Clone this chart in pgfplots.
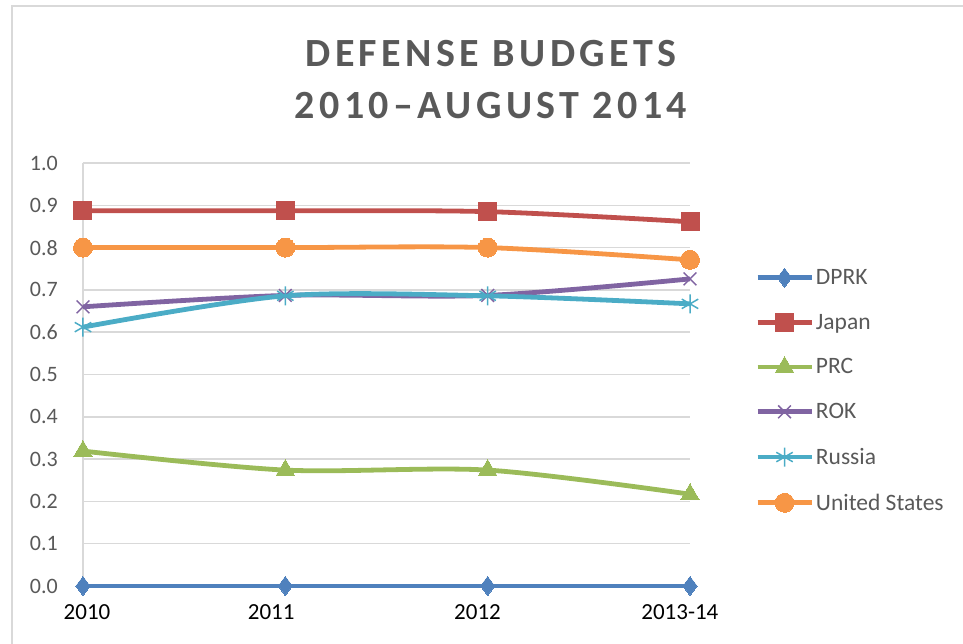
\documentclass[border=0pt]{standalone}
\usepackage{pgfplots}
\pgfplotsset{compat=1.18}
\usepackage{fontspec}
\setmainfont{Carlito}
\newfontfamily\titlefont[LetterSpace=11]{Carlito}

\definecolor{gridgray}{HTML}{D9D9D9}
\definecolor{txtgray}{HTML}{595959}
\definecolor{cDPRK}{HTML}{4F81BD}
\definecolor{cJapan}{HTML}{C0504D}
\definecolor{cPRC}{HTML}{9BBB59}
\definecolor{cROK}{HTML}{8064A2}
\definecolor{cRussia}{HTML}{4BACC6}
\definecolor{cUS}{HTML}{F79646}

\begin{document}
\begin{tikzpicture}[x=1pt,y=1pt]
\useasboundingbox (-83,-57) rectangle (880,586);
% chart area border
\draw[gridgray, line width=1.5pt] (-71,-70) -- (-71,580) -- (890,580);
\begin{axis}[
    at={(0,0)}, anchor=south west,
    scale only axis, width=607pt, height=423pt,
    xmin=0, xmax=3, ymin=0, ymax=1,
    xtick={0.02,0.93,1.95,2.95},
    xticklabels={2010,2011,2012,2013-14},
    ytick={0,0.1,0.2,0.3,0.4,0.5,0.6,0.7,0.8,0.9,1.0},
    /pgf/number format/assume math mode=true,
    yticklabel style={text=txtgray, font=\fontsize{22}{26}\selectfont,
        /pgf/number format/fixed,
        /pgf/number format/fixed zerofill,
        /pgf/number format/precision=1},
    ticklabel style={inner sep=0pt},
    xticklabel style={text=black, font=\fontsize{23}{27}\selectfont},
    yticklabel shift=25pt,
    xticklabel shift=18pt,
    major tick length=0pt,
    ymajorgrids,
    grid style={gridgray, line width=1.5pt},
    separate axis lines,
    axis x line*=bottom,
    axis y line*=left,
    x axis line style={draw=none},
    y axis line style={gridgray, line width=1.5pt, -},
    clip=false,
    title={DEFENSE BUDGETS\\2010\textendash AUGUST 2014},
    title style={at={(axis description cs:0.672,1.183)}, anchor=center,
        align=center, text=txtgray,
        font=\titlefont\bfseries\fontsize{40}{51.5}\selectfont},
    legend style={draw=none, fill=none, inner sep=0pt,
        at={(axis description cs:1.107,0.462)}, anchor=west,
        font=\fontsize{23.5}{27}\selectfont, text=txtgray,
        row sep=24pt, cells={anchor=west}},
    legend image code/.code={\draw[mark repeat=2,mark phase=2]
        plot coordinates {(0pt,0pt) (27pt,0pt) (54pt,0pt)};},
    every axis plot/.append style={line width=4.8pt, smooth},
]
\addplot[cDPRK, mark=diamond*, mark size=9.5pt, mark options={solid, line width=0pt}]
    coordinates {(0,0) (1,0) (2,0) (3,0)};
\addlegendentry{DPRK}
\addplot[cJapan, mark=square*, mark size=9pt, mark options={solid, line width=0pt}]
    coordinates {(0,0.887) (1,0.887) (2,0.885) (3,0.861)};
\addlegendentry{Japan}
\addplot[cPRC, mark=triangle*, mark size=10.5pt, mark options={solid, line width=0pt}]
    coordinates {(0,0.319) (1,0.274) (2,0.274) (3,0.217)};
\addlegendentry{PRC}
\addplot[cROK, mark=x, mark size=9pt, mark options={solid, line width=1.5pt}]
    coordinates {(0,0.660) (1,0.687) (2,0.687) (3,0.726)};
\addlegendentry{ROK}
\addplot[cRussia, mark=asterisk, mark size=9.5pt, mark options={solid, line width=1.5pt}]
    coordinates {(0,0.612) (1,0.686) (2,0.686) (3,0.667)};
\addlegendentry{Russia}
\addplot[cUS, mark=*, mark size=9.5pt, mark options={solid, line width=0pt}]
    coordinates {(0,0.800) (1,0.800) (2,0.800) (3,0.771)};
\addlegendentry{United States}
\end{axis}
\end{tikzpicture}
\end{document}
